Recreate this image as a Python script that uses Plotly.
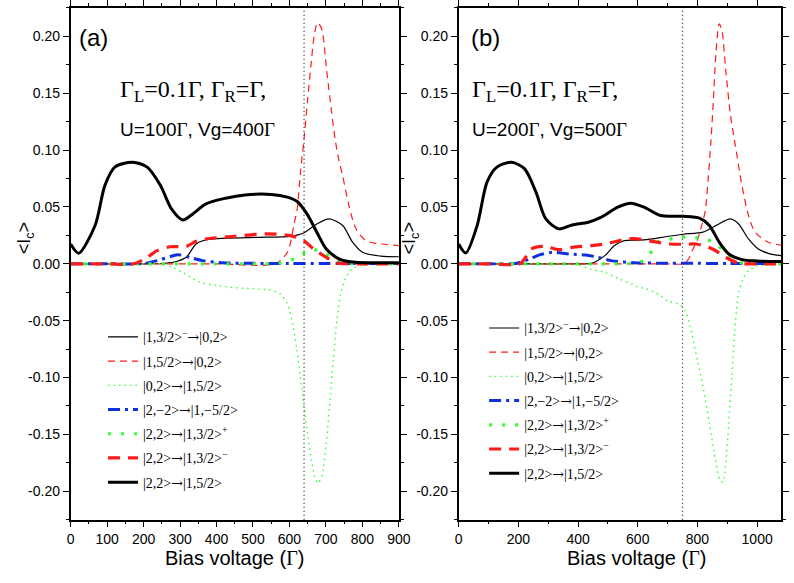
import plotly.graph_objects as go

# ---------------- Panel (a): U=100Γ, Vg=400Γ ----------------
a_thin_black_x = [0, 100, 200, 260, 290, 317, 344, 371, 425, 514, 603, 639, 675, 709, 746, 773, 800, 850, 900]
a_thin_black_y = [0, 0, 0, 0.0005, 0.002, 0.0057, 0.0174, 0.021, 0.0225, 0.0233, 0.0242, 0.0271, 0.035, 0.0395,
                  0.0337, 0.019, 0.0101, 0.0068, 0.0062]

a_thin_red_x = [0, 200, 400, 560, 594, 612, 621, 630, 640, 650, 660, 668, 677, 688, 702, 715, 725, 735, 746, 764,
                782, 809, 853, 900]
a_thin_red_y = [0, 0, 0, 0, 0.010, 0.034, 0.048, 0.080, 0.110, 0.145, 0.178, 0.201, 0.212, 0.207, 0.170, 0.135,
                0.110, 0.092, 0.077, 0.050, 0.031, 0.0204, 0.0174, 0.016]

a_thin_green_x = [0, 200, 250, 280, 310, 353, 400, 450, 501, 554, 576, 594, 610, 620, 630, 640, 650, 660, 670, 678,
                  690, 700, 710, 720, 730, 740, 750, 760, 775, 800, 900]
a_thin_green_y = [0, 0, 0, -0.003, -0.008, -0.016, -0.019, -0.021, -0.022, -0.0235, -0.027, -0.035, -0.055, -0.075,
                  -0.100, -0.125, -0.150, -0.172, -0.188, -0.193, -0.185, -0.160, -0.125, -0.085, -0.050, -0.027,
                  -0.016, -0.009, -0.004, -0.001, 0]

a_blue_x = [0, 100, 200, 237, 273, 295, 326, 362, 425, 500, 600, 700, 800, 900]
a_blue_y = [0, 0, 0.0003, 0.0028, 0.0063, 0.008, 0.0057, 0.0028, 0.0008, 0.0004, 0.0003, 0.0003, 0.0002, 0.0002]

a_big_green_x = [0, 100, 200, 300, 400, 500, 570, 600, 630, 661, 697, 728, 760, 800, 900]
a_big_green_y = [0, 0, 0, 0, 0, 0, 0.0005, 0.003, 0.0072, 0.013, 0.0086, 0.0042, 0.0005, 0, 0]

a_thick_red_x = [0, 100, 174, 210, 237, 273, 317, 344, 371, 442, 532, 603, 639, 666, 701, 728, 760, 800, 900]
a_thick_red_y = [0, 0, 0, 0.0057, 0.0116, 0.015, 0.0153, 0.0198, 0.0219, 0.024, 0.0263, 0.0248, 0.0204, 0.013,
                 0.0057, 0.0009, 0, 0, 0]

a_thick_black_x = [0, 22, 67, 94, 121, 170, 210, 246, 277, 307, 335, 371, 425, 478, 550, 594, 621, 648, 675, 701,
                   737, 782, 840, 900]
a_thick_black_y = [0.0174, 0.0093, 0.0337, 0.069, 0.085, 0.0894, 0.085, 0.069, 0.048, 0.0386, 0.0439, 0.0527,
                   0.0577, 0.0606, 0.061, 0.0586, 0.0548, 0.0439, 0.0278, 0.013, 0.0042, 0.0013, 0.001, 0.001]

# ---------------- Panel (b): U=200Γ, Vg=500Γ ----------------
b_thin_black_x = [0, 200, 400, 446, 490, 522, 555, 621, 698, 752, 818, 862, 911, 938, 971, 1004, 1040, 1080]
b_thin_black_y = [0, 0, 0, 0.0005, 0.0072, 0.016, 0.0204, 0.021, 0.024, 0.026, 0.0278, 0.0337, 0.0395, 0.035,
                  0.0219, 0.013, 0.009, 0.0072]

b_thin_red_x = [0, 400, 700, 752, 770, 785, 800, 810, 818, 827, 836, 845, 853, 862, 873, 882, 895, 911, 927, 949,
                971, 993, 1037, 1080]
b_thin_red_y = [0, 0, 0, 0, 0.004, 0.013, 0.021, 0.030, 0.037, 0.048, 0.075, 0.107, 0.142, 0.185, 0.211, 0.205,
                0.170, 0.130, 0.104, 0.069, 0.0425, 0.028, 0.019, 0.0165]

b_thin_green_x = [0, 300, 400, 446, 491, 539, 581, 603, 624, 651, 676, 698, 740, 760, 780, 800, 820, 840, 860, 875,
                  885, 895, 905, 915, 925, 938, 955, 971, 1000, 1080]
b_thin_green_y = [0, 0, -0.001, -0.005, -0.0075, -0.0134, -0.0178, -0.0207, -0.0216, -0.0245, -0.028, -0.0324,
                  -0.036, -0.042, -0.060, -0.085, -0.110, -0.140, -0.172, -0.190, -0.192, -0.175, -0.140, -0.100,
                  -0.060, -0.025, -0.012, -0.006, -0.002, 0]

b_blue_x = [0, 100, 190, 238, 271, 314, 369, 424, 468, 511, 588, 700, 800, 900, 1080]
b_blue_y = [0, 0, 0.0003, 0.0042, 0.0078, 0.0101, 0.0086, 0.0078, 0.0057, 0.0028, 0.001, 0.0005, 0.0004, 0.0003,
            0.0002]

b_big_green_x = [0, 200, 400, 550, 603, 630, 648, 670, 698, 741, 785, 823, 862, 905, 949, 1000, 1080]
b_big_green_y = [0, 0, 0, 0, 0.001, 0.005, 0.0116, 0.0195, 0.021, 0.0233, 0.023, 0.0222, 0.0174, 0.0075, 0.0006,
                 0, 0]

b_thick_red_x = [0, 100, 205, 225, 243, 287, 336, 380, 446, 490, 566, 599, 654, 708, 760, 796, 851, 895, 938,
                 1000, 1080]
b_thick_red_y = [0, 0, 0, 0.006, 0.013, 0.0154, 0.0125, 0.0145, 0.016, 0.0174, 0.0219, 0.0219, 0.0195, 0.0174,
                 0.0172, 0.0174, 0.013, 0.0057, 0.0005, 0, 0]

b_thick_black_x = [0, 24, 62, 95, 128, 177, 221, 259, 292, 336, 380, 435, 478, 533, 577, 621, 676, 752, 807, 840,
                   873, 905, 949, 1000, 1080]
b_thick_black_y = [0.0174, 0.0095, 0.0337, 0.0718, 0.085, 0.0894, 0.0835, 0.063, 0.0395, 0.0307, 0.0342, 0.0366,
                   0.041, 0.0498, 0.0533, 0.0498, 0.0425, 0.0418, 0.0401, 0.0337, 0.019, 0.0086, 0.0037, 0.0025,
                   0.002]

# transition labels (legend order); the arrow uses a font with a full-width glyph
ARROW = "<span style='font-family:DejaVu Serif'>→</span>"
series_names = [
    f"|1,3/2&gt;<sup>−</sup>{ARROW}|0,2&gt;",
    f"|1,5/2&gt;{ARROW}|0,2&gt;",
    f"|0,2&gt;{ARROW}|1,5/2&gt;",
    f"|2,−2&gt;{ARROW}|1,−5/2&gt;",
    f"|2,2&gt;{ARROW}|1,3/2&gt;<sup>+</sup>",
    f"|2,2&gt;{ARROW}|1,3/2&gt;<sup>−</sup>",
    f"|2,2&gt;{ARROW}|1,5/2&gt;",
]

panel_a = [(a_thin_black_x, a_thin_black_y), (a_thin_red_x, a_thin_red_y), (a_thin_green_x, a_thin_green_y),
           (a_blue_x, a_blue_y), (a_big_green_x, a_big_green_y), (a_thick_red_x, a_thick_red_y),
           (a_thick_black_x, a_thick_black_y)]
panel_b = [(b_thin_black_x, b_thin_black_y), (b_thin_red_x, b_thin_red_y), (b_thin_green_x, b_thin_green_y),
           (b_blue_x, b_blue_y), (b_big_green_x, b_big_green_y), (b_thick_red_x, b_thick_red_y),
           (b_thick_black_x, b_thick_black_y)]

# reference bias voltages (vertical dotted markers)
bias_markers = [640, 750]

y_tick_vals = [-0.20, -0.15, -0.10, -0.05, 0.00, 0.05, 0.10, 0.15, 0.20]
y_tick_text = ["-0.20", "-0.15", "-0.10", "-0.05", "0.00", "0.05", "0.10", "0.15", "0.20"]

# line styles matching the legend order
styles = [
    dict(color="black", width=1.2, dash="solid"),
    dict(color="#ff1a1a", width=1.2, dash="7px,5px"),
    dict(color="#33ff33", width=1.4, dash="1.5px,4px"),
    dict(color="#1030e0", width=3, dash="12px,5px,3px,5px"),
    dict(color="#33ff33", width=3.2, dash="3px,10px"),
    dict(color="#ff1a1a", width=3.2, dash="12px,8px"),
    dict(color="black", width=3, dash="solid"),
]

fig = go.Figure()

for panel, xa, ya, leg, tag in [(panel_a, "x", "y", "legend", "a"), (panel_b, "x2", "y2", "legend2", "b")]:
    for i, ((xs, ys), name, st) in enumerate(zip(panel, series_names, styles)):
        fig.add_trace(go.Scatter(
            x=xs, y=ys, mode="lines", name=name,
            line=dict(color=st["color"], width=st["width"], dash=st["dash"], shape="spline", smoothing=0.8),
            xaxis=xa, yaxis=ya, legend=leg, legendgroup=f"{tag}{i}",
        ))

sans = "Liberation Sans, Arial, sans-serif"
serif = "Liberation Serif, Times New Roman, serif"
W, H = 794, 583

def xdom(a, b):
    return [a / W, b / W]

ydom = [1 - 519.3 / H, 1 - 5 / H]

axis_common = dict(
    showline=True, linecolor="black", linewidth=1.6, mirror="allticks",
    ticks="outside", ticklen=6, tickwidth=1.4, tickcolor="black",
    showgrid=False, zeroline=False,
    tickfont=dict(family=sans, size=14, color="black"),
)

fig.update_layout(
    width=W, height=H,
    margin=dict(l=0, r=0, t=0, b=0),
    paper_bgcolor="white", plot_bgcolor="white",
    xaxis=dict(domain=xdom(68, 403), range=[0, 900], anchor="y", tick0=0, dtick=100,
               minor=dict(ticks="outside", ticklen=3, tickwidth=1.2, dtick=50, tickcolor="black"), **axis_common),
    yaxis=dict(domain=ydom, range=[-0.225, 0.225], anchor="x", tickmode="array", tickvals=y_tick_vals,
               ticktext=y_tick_text,
               minor=dict(ticks="outside", ticklen=3, tickwidth=1.2, tick0=0, dtick=0.025, tickcolor="black"),
               **axis_common),
    xaxis2=dict(domain=xdom(464, 793), range=[0, 1080], anchor="y2", tick0=0, dtick=200,
                minor=dict(ticks="outside", ticklen=3, tickwidth=1.2, dtick=100, tickcolor="black"), **axis_common),
    yaxis2=dict(domain=ydom, range=[-0.225, 0.225], anchor="x2", tickmode="array", tickvals=y_tick_vals,
                ticktext=y_tick_text,
                minor=dict(ticks="outside", ticklen=3, tickwidth=1.2, tick0=0, dtick=0.025, tickcolor="black"),
                **axis_common),
    legend=dict(x=101 / W, y=1 - 320 / H, xanchor="left", yanchor="top", bgcolor="rgba(0,0,0,0)",
                font=dict(family=serif, size=14, color="black"), tracegroupgap=3, itemwidth=30),
    legend2=dict(x=490 / W, y=1 - 311 / H, xanchor="left", yanchor="top", bgcolor="rgba(0,0,0,0)",
                 font=dict(family=serif, size=14, color="black"), tracegroupgap=3, itemwidth=30),
    showlegend=True,
)

# vertical dotted markers
for xa, ya, xv in [("x", "y", bias_markers[0]), ("x2", "y2", bias_markers[1])]:
    fig.add_shape(type="line", xref=xa, yref=f"{ya} domain", x0=xv, x1=xv, y0=0, y1=1,
                  line=dict(color="#222222", width=1.2, dash="1px,3px"))

G = f"<span style='font-family:{serif}'>Γ</span>"

def note(text, px, py, size, family, xanchor="left"):
    fig.add_annotation(text=text, x=px / W, y=1 - py / H, xref="paper", yref="paper",
                       xanchor=xanchor, yanchor="middle", showarrow=False,
                       font=dict(family=family, size=size, color="black"))

note("(a)", 75, 35, 24, sans)
note("Γ<sub>L</sub>=0.1Γ, Γ<sub>R</sub>=Γ,", 116, 88, 24, serif)
note(f"U=100{G}, Vg=400{G}", 116, 127, 19, sans)
note("(b)", 475, 35, 24, sans)
note("Γ<sub>L</sub>=0.1Γ, Γ<sub>R</sub>=Γ,", 476, 88, 24, serif)
note(f"U=200{G}, Vg=500{G}", 476, 127, 19, sans)

note(f"Bias voltage ({G})", 235, 558, 20, sans, xanchor="center")
note(f"Bias voltage ({G})", 645, 558, 20, sans, xanchor="center")

for px in [22, 415]:
    fig.add_annotation(text="&lt;I<sub>c</sub>&gt;", x=px / W, y=1 - 237 / H, xref="paper", yref="paper",
                       xanchor="center", yanchor="middle", textangle=-90, showarrow=False,
                       font=dict(family=sans, size=18, color="black"))

fig.write_html("out.html")
